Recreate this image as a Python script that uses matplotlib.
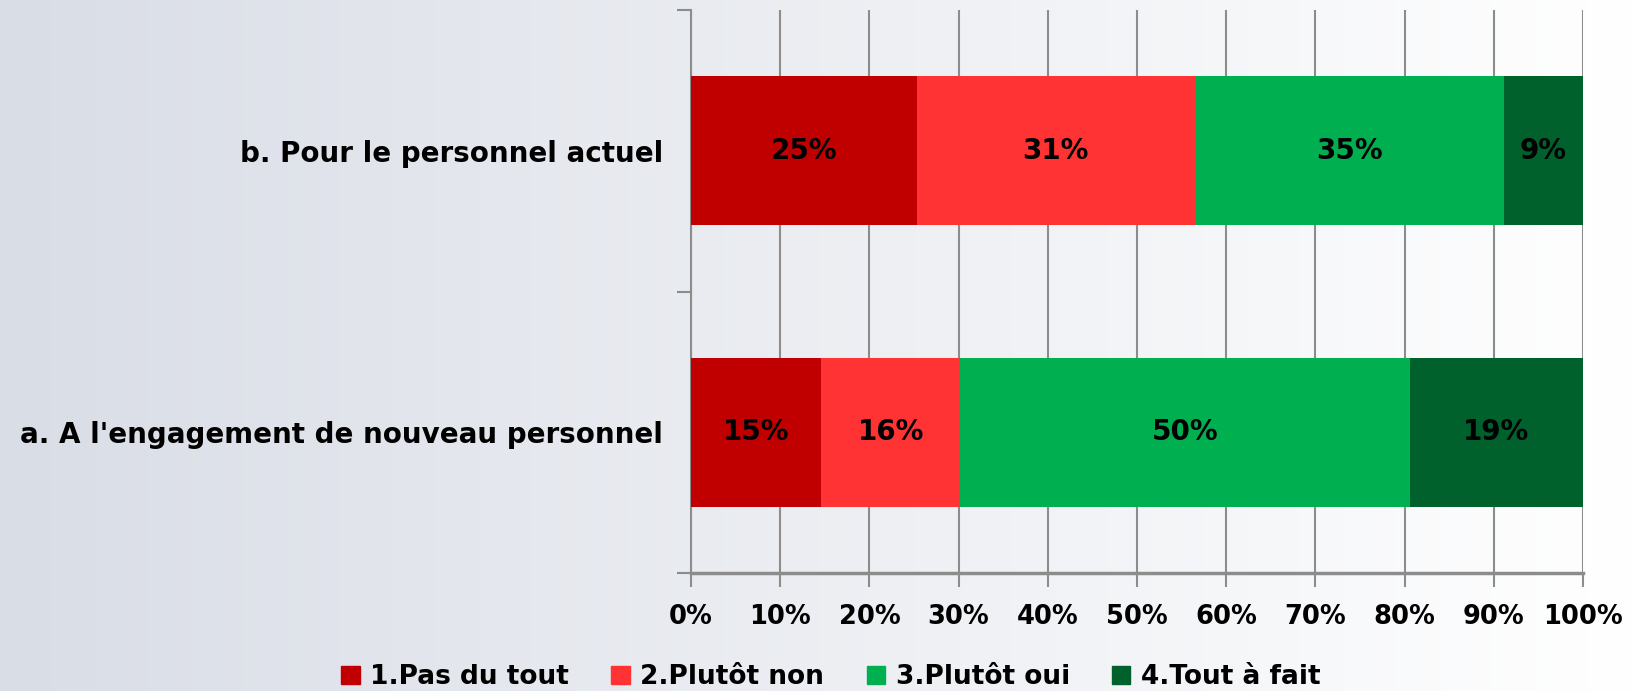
import matplotlib.pyplot as plt
import numpy as np
from matplotlib.patches import Patch

# data
categories = ["a. A l'engagement de nouveau personnel", "b. Pour le personnel actuel"]
series_names = ["1.Pas du tout", "2.Plutôt non", "3.Plutôt oui", "4.Tout à fait"]
values = [
    [14.6, 25.3],   # 1.Pas du tout
    [15.6, 31.2],   # 2.Plutôt non
    [50.4, 34.6],   # 3.Plutôt oui
    [19.4, 8.9],    # 4.Tout à fait
]
colors = ["#C00000", "#FF3333", "#00B050", "#00612D"]
xticks = [0, 10, 20, 30, 40, 50, 60, 70, 80, 90, 100]

W, H = 1639, 691
fig = plt.figure(figsize=(W / 100, H / 100), dpi=100)

# background gradient (blue-grey on the left to white on the right)
bg = fig.add_axes([0, 0, 1, 1], zorder=-10)
grad = np.linspace(0, 1, 256).reshape(1, -1)
c0 = np.array([0xD9, 0xDD, 0xE6]) / 255
c1 = np.array([1.0, 1.0, 1.0])
img = c0[None, None, :] + (c1 - c0)[None, None, :] * grad[:, :, None]
bg.imshow(img, aspect="auto", extent=[0, 1, 0, 1])
bg.axis("off")

left, right, top, bottom = 691, 1583, 10, 573
ax = fig.add_axes([left / W, 1 - bottom / H, (right - left) / W, (bottom - top) / H])
ax.set_facecolor("none")

y = np.arange(len(categories))
cum = np.zeros(len(categories))
for name, vals, col in zip(series_names, values, colors):
    vals = np.array(vals)
    ax.barh(y, vals, left=cum, height=0.53, color=col, label=name, zorder=3)
    for yi, (c, v) in enumerate(zip(cum, vals)):
        ax.text(c + v / 2, yi, f"{v:.0f}%", ha="center", va="center",
                fontsize=20, fontweight="bold", color="black", zorder=4)
    cum += vals

ax.set_xlim(0, 100)
ax.set_ylim(-0.5, 1.5)
ax.set_xticks(xticks)
ax.set_xticklabels([f"{t}%" for t in xticks], fontsize=18.5, fontweight="bold")
ax.set_yticks([-0.5, 0.5, 1.5])
ax.set_yticklabels([])
ax.set_yticks(y, minor=True)
ax.set_yticklabels(categories, minor=True, fontsize=20, fontweight="bold")
ax.tick_params(axis="y", which="minor", length=0, pad=20)
ax.tick_params(axis="y", which="major", length=10, color="#8C8C8C", width=1.5)
ax.tick_params(axis="x", length=10, color="#8C8C8C", width=1.5, pad=12)
ax.grid(axis="x", color="#8C8C8C", linewidth=1.5, zorder=0)
for s in ["top", "right"]:
    ax.spines[s].set_visible(False)
ax.spines["left"].set_color("#8C8C8C")
ax.spines["left"].set_linewidth(1.5)
ax.spines["bottom"].set_color("#8C8C8C")
ax.spines["bottom"].set_linewidth(2.5)

handles = [Patch(color=c, label=n) for n, c in zip(series_names, colors)]
fig.legend(handles=handles, loc="center", bbox_to_anchor=(0.507, 1 - 677 / H),
           ncol=4, frameon=False, prop={"size": 19, "weight": "bold"},
           handlelength=0.7, handleheight=0.7, handletextpad=0.4, columnspacing=1.6)

fig.savefig("out.png", dpi=100)
